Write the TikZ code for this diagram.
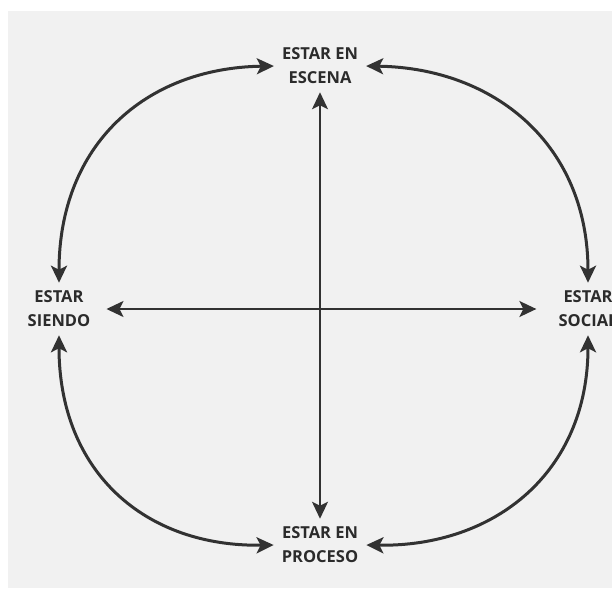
\documentclass[tikz,border=0pt]{standalone}
\usepackage{fontspec}
\setmainfont{Open Sans}
\usetikzlibrary{arrows.meta}
\usepackage{xcolor}
\definecolor{CrossGray}{RGB}{50,50,50}
\definecolor{PanelGray}{RGB}{241,241,241}

\begin{document}
\begin{tikzpicture}[x=1pt,y=-1pt,
estado/.style={align=center,font=\fontsize{16.5}{24}\selectfont\bfseries,
text=CrossGray!85!black,inner sep=8pt},
arrow/.style={{Stealth[length=17pt,width=16pt,inset=4pt]}-{Stealth[length=17pt,width=16pt,inset=4pt]},
line width=2pt,draw=CrossGray},
curve/.style={arrow,line width=3pt}
]
\useasboundingbox (0,0) rectangle (612,588);
\fill[white] (0,0) rectangle (612,588);
\fill[PanelGray] (8,11) rectangle (612,588);
\node[estado] (escena) at (320,66) {ESTAR EN\\ESCENA};
\node[estado] (siendo) at (59,309) {ESTAR\\SIENDO};
\node[estado] (social) at (588,309) {ESTAR\\SOCIAL};
\node[estado] (proceso) at (320,545) {ESTAR EN\\PROCESO};
\draw[arrow] (escena) -- (proceso);
\draw[arrow,shorten <=8pt,shorten >=14pt] (siendo) -- (social);
\draw[curve] (escena.west) .. controls (145,68) and (59,145) .. (siendo.north);
\draw[curve] (escena.east) .. controls (495,68) and (588,145) .. (social.north);
\draw[curve] (siendo.south) .. controls (59,472) and (145,547) .. (proceso.west);
\draw[curve] (social.south) .. controls (588,472) and (495,547) .. (proceso.east);
\end{tikzpicture}
\end{document}
